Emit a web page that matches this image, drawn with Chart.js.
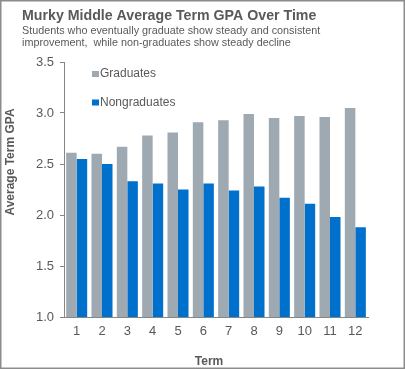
<!DOCTYPE html>
<html>
<head>
<meta charset="utf-8">
<script src="https://cdn.jsdelivr.net/npm/chart.js@4"></script>
<style>
  html, body { margin:0; padding:0; background:#fff; }
  #wrap { width:405px; height:369px; position:relative; }
</style>
</head>
<body>
<div id="wrap"><canvas id="gpa-chart" width="405" height="369"></canvas></div>
<script>
// data
const TERMS = ['1','2','3','4','5','6','7','8','9','10','11','12'];
const GRADUATES = [2.61, 2.60, 2.67, 2.78, 2.81, 2.91, 2.93, 2.99, 2.95, 2.97, 2.96, 3.05];
const NONGRADUATES = [2.55, 2.50, 2.33, 2.31, 2.25, 2.31, 2.24, 2.28, 2.17, 2.11, 1.98, 1.88];
const SERIES_NAMES = ['Graduates', 'Nongraduates'];
const Y_TICKS = [1.0, 1.5, 2.0, 2.5, 3.0, 3.5];

const TITLE = 'Murky Middle Average Term GPA Over Time';
const SUBTITLE = ['Students who eventually graduate show steady and consistent',
                  'improvement,  while non-graduates show steady decline'];
const Y_TITLE = 'Average Term GPA';
const X_TITLE = 'Term';

const TEXT = '#595959';
const AXIS = '#868686';
const FONT = '"Liberation Sans", Arial, sans-serif';

// title, subtitle, legend, axis titles and frame
const decorPlugin = {
  id: 'decor',
  afterDraw(chart) {
    const { ctx } = chart;
    ctx.save();
    ctx.fillStyle = TEXT;
    ctx.textAlign = 'left';
    ctx.textBaseline = 'alphabetic';
    ctx.font = 'bold 14.2px ' + FONT;
    ctx.fillText(TITLE, 22, 20);
    ctx.font = '10.8px ' + FONT;
    ctx.fillText(SUBTITLE[0], 22, 34);
    ctx.fillText(SUBTITLE[1], 22, 46);

    // legend inside plot
    ctx.font = '12px ' + FONT;
    chart.data.datasets.forEach((ds, i) => {
      const y = 77 + i * 28.5;
      ctx.fillStyle = ds.backgroundColor;
      ctx.fillRect(92, y - 6, 7, 6);
      ctx.fillStyle = TEXT;
      ctx.fillText(ds.label, 100, y);
    });

    // axis titles
    ctx.font = 'bold 12px ' + FONT;
    ctx.textAlign = 'center';
    ctx.fillText(X_TITLE, 209, 365);
    ctx.translate(14, 162);
    ctx.rotate(-Math.PI / 2);
    ctx.fillText(Y_TITLE, 0, 0);
    ctx.restore();

    ctx.save();
    ctx.strokeStyle = '#8c8c8c';
    ctx.lineWidth = 1.5;
    ctx.strokeRect(0.75, 0.75, chart.width - 1.5, chart.height - 1.5);
    ctx.restore();
  }
};

new Chart(document.getElementById('gpa-chart'), {
  type: 'bar',
  data: {
    labels: TERMS,
    datasets: [
      { label: SERIES_NAMES[0], data: GRADUATES, backgroundColor: '#9EA9B2' },
      { label: SERIES_NAMES[1], data: NONGRADUATES, backgroundColor: '#0070CD' }
    ]
  },
  options: {
    responsive: false,
    animation: false,
    devicePixelRatio: 1,
    layout: { padding: { top: 62, left: 0, right: 37, bottom: 0 } },
    datasets: { bar: { barPercentage: 1, categoryPercentage: 0.83 } },
    plugins: { legend: { display: false }, tooltip: { enabled: false }, title: { display: false } },
    scales: {
      x: {
        grid: { display: true, drawOnChartArea: false, drawTicks: false },
        border: { color: AXIS, width: 1 },
        ticks: { color: TEXT, font: { family: FONT, size: 13 }, padding: 7, maxRotation: 0 },
        afterFit(scale) { scale.height = 52; }
      },
      y: {
        min: 1, max: 3.5,
        afterBuildTicks(scale) { scale.ticks = Y_TICKS.map(v => ({ value: v })); },
        grid: { display: true, drawOnChartArea: false, drawTicks: true, tickLength: 4, color: AXIS },
        border: { color: AXIS, width: 1 },
        ticks: { color: TEXT, font: { family: FONT, size: 13 }, padding: 6, callback: v => Number(v).toFixed(1) },
        afterFit(scale) { scale.width = 64; }
      }
    }
  },
  plugins: [decorPlugin]
});
</script>
</body>
</html>
